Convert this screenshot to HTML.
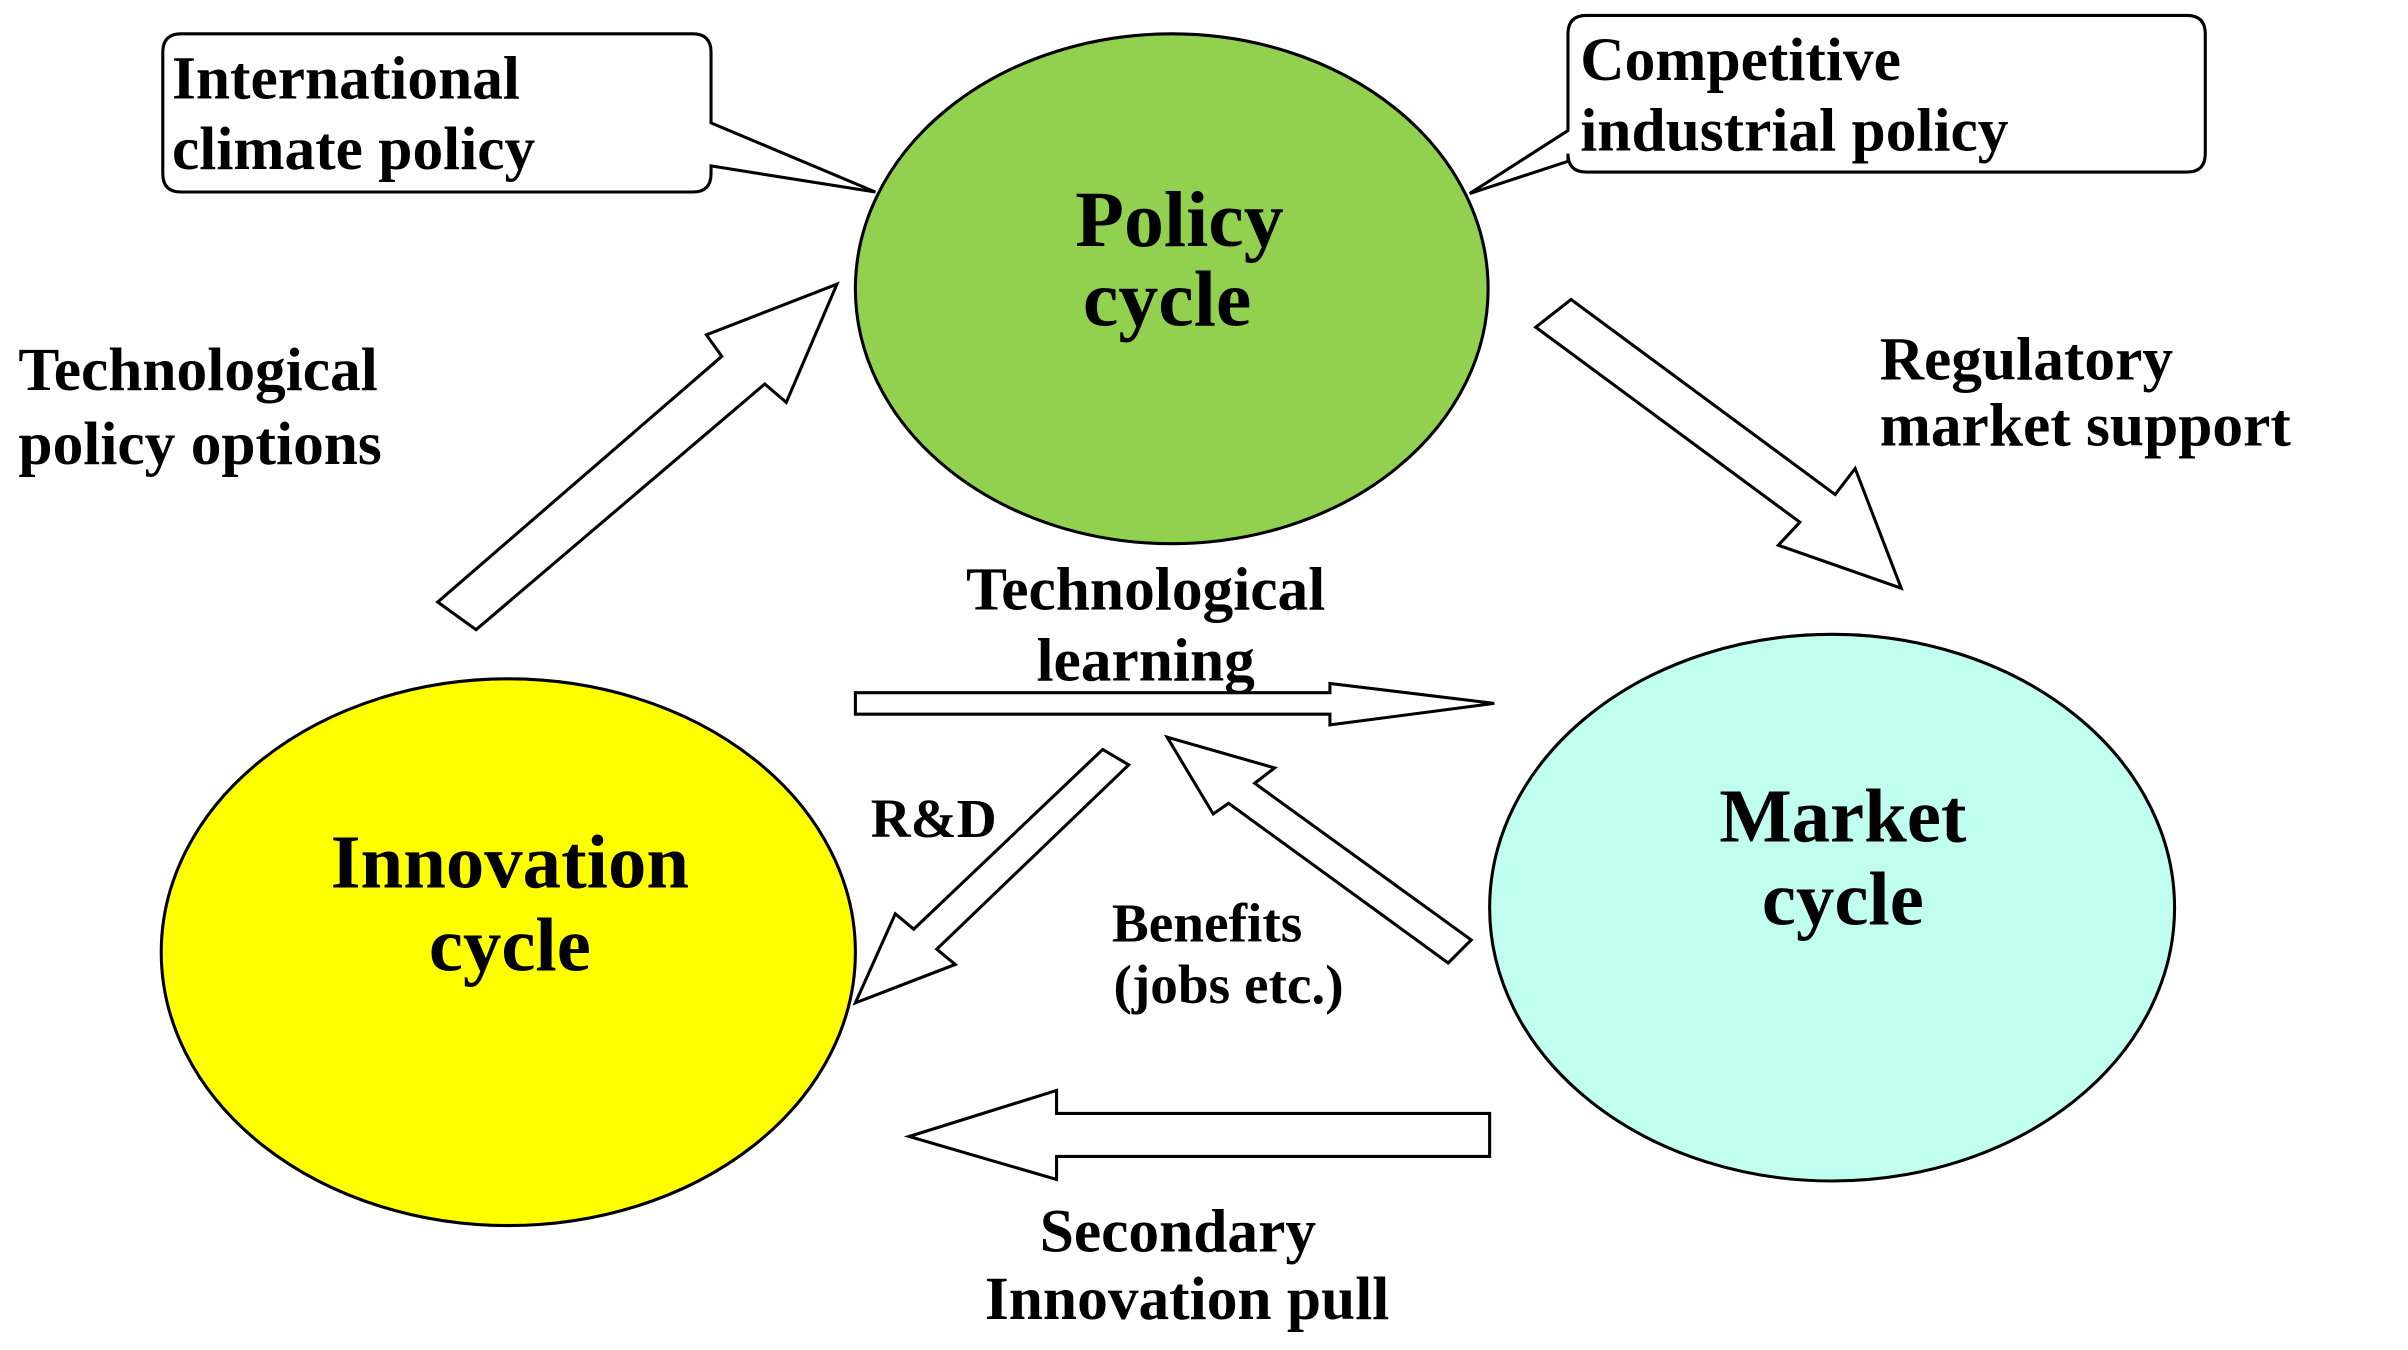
<!DOCTYPE html>
<html><head><meta charset="utf-8"><style>
html,body{margin:0;padding:0;background:#fff;}
svg{display:block;}
text{font-family:"Liberation Serif",serif;font-weight:bold;fill:#000;}
</style></head><body>
<svg width="2408" height="1350" viewBox="0 0 1568 879" xmlns="http://www.w3.org/2000/svg">
<g stroke="#000" stroke-width="2">
<ellipse cx="763" cy="188" rx="206" ry="166" fill="#92d050"/>
<ellipse cx="331" cy="620" rx="226" ry="178" fill="#ffff00"/>
<ellipse cx="1193" cy="591" rx="223" ry="178" fill="#c0fff0"/>
<path d="M118 22 H451 Q463 22 463 34 V80 L570 125 L463 108 V113 Q463 125 451 125 H118 Q106 125 106 113 V34 Q106 22 118 22 Z" fill="#fff"/>
<path d="M1033 10 H1424 Q1436 10 1436 22 V100 Q1436 112 1424 112 H1033 Q1021 112 1021 100 V105 L957 126 L1021 85 V22 Q1021 10 1033 10 Z" fill="#fff"/>
<polygon points="285,392 470,232 460,218 545,185 512,262 498,250 310,410" fill="#fff"/>
<polygon points="1023,195 1195,322 1208,305 1238,383 1158,355 1172,340 1000,213" fill="#fff"/>
<polygon points="557,451 866,451 866,445 973,458 866,472 866,465 557,465" fill="#fff"/>
<polygon points="718,488 735,498 610,618 622,628 557,653 583,595 595,605" fill="#fff"/>
<polygon points="958,612 943,627 800,523 790,530 760,480 830,500 817,510" fill="#fff"/>
<polygon points="970,725 688,725 688,710 592,740 688,768 688,753 970,753" fill="#fff"/>
</g>
<text x="112" y="64" font-size="40">International</text>
<text x="112" y="110" font-size="40">climate policy</text>
<text x="1029" y="52" font-size="40">Competitive</text>
<text x="1029" y="98" font-size="40">industrial policy</text>
<text x="768" y="160" font-size="52" text-anchor="middle">Policy</text>
<text x="760" y="212" font-size="52" text-anchor="middle">cycle</text>
<text x="332" y="578" font-size="50" text-anchor="middle">Innovation</text>
<text x="332" y="632" font-size="50" text-anchor="middle">cycle</text>
<text x="1200" y="548" font-size="50" text-anchor="middle">Market</text>
<text x="1200" y="602" font-size="50" text-anchor="middle">cycle</text>
<text x="12" y="254" font-size="40">Technological</text>
<text x="12" y="302" font-size="40">policy options</text>
<text x="1224" y="247" font-size="40">Regulatory</text>
<text x="1224" y="290" font-size="40">market support</text>
<text x="746" y="397" font-size="40" text-anchor="middle">Technological</text>
<text x="746" y="443" font-size="40" text-anchor="middle">learning</text>
<text x="567" y="545" font-size="36">R&amp;D</text>
<text x="786" y="613" font-size="36" text-anchor="middle">Benefits</text>
<text x="800" y="653" font-size="36" text-anchor="middle">(jobs etc.)</text>
<text x="767" y="815" font-size="40" text-anchor="middle">Secondary</text>
<text x="773" y="859" font-size="40" text-anchor="middle">Innovation pull</text>
</svg>
</body></html>
